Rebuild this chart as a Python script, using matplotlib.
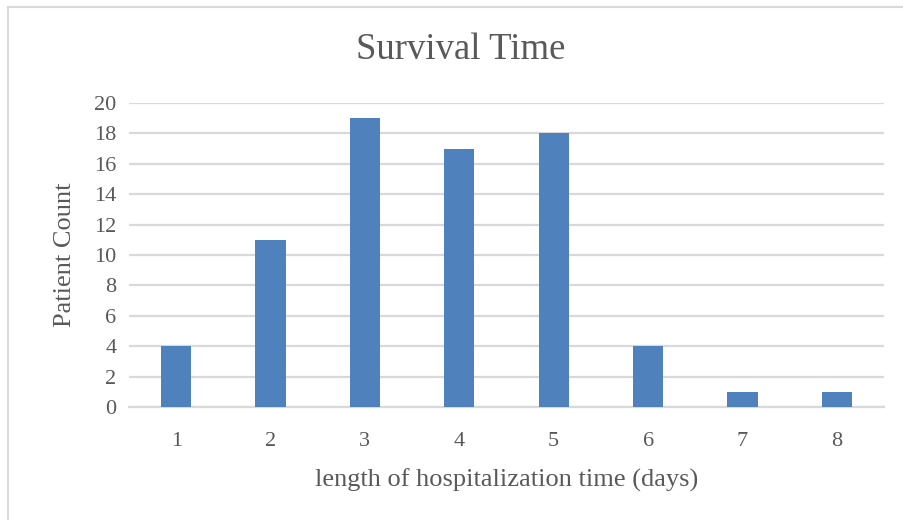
import matplotlib
matplotlib.use("Agg")
import matplotlib.pyplot as plt
from matplotlib.patches import Rectangle

categories = ["1", "2", "3", "4", "5", "6", "7", "8"]
patient_counts = [4, 11, 19, 17, 18, 4, 1, 1]
y_ticks = [0, 2, 4, 6, 8, 10, 12, 14, 16, 18, 20]

title = "Survival Time"
x_label = "length of hospitalization time (days)"
y_label = "Patient Count"

text_color = "#595959"
grid_color = "#d9d9d9"
bar_color = "#4f81bd"

plt.rcParams["font.family"] = ["Liberation Serif", "DejaVu Serif"]

fig = plt.figure(figsize=(9.04, 5.2), dpi=100)
fig.patches.append(Rectangle((8 / 904, -0.1), 1.2, 1 - 7 / 520 + 0.1,
                             transform=fig.transFigure, fill=False,
                             edgecolor=grid_color, linewidth=1.5, zorder=0))

ax = fig.add_axes([129 / 904, 1 - 407 / 520, (884 - 129) / 904, (407 - 103) / 520])
x = list(range(len(categories)))
ax.bar(x, patient_counts, width=0.32, color=bar_color, zorder=3)

ax.set_xlim(-0.5, len(categories) - 0.5)
ax.set_ylim(0, 20)
ax.set_yticks(y_ticks)
ax.set_xticks(x)
ax.set_xticklabels(categories)
ax.yaxis.grid(True, color=grid_color, linewidth=1.6, zorder=0)
ax.set_axisbelow(True)
for s in ["top", "right", "left"]:
    ax.spines[s].set_visible(False)
ax.spines["bottom"].set_color(grid_color)
ax.spines["bottom"].set_linewidth(1.6)
ax.tick_params(axis="both", length=0, labelsize=16, colors=text_color)
ax.tick_params(axis="x", pad=18)
ax.tick_params(axis="y", pad=9)

ax.set_xlabel(x_label, fontsize=19, color=text_color, labelpad=13)
ax.set_ylabel(y_label, fontsize=19, color=text_color, labelpad=13)
fig.text(461 / 904, 1 - 50 / 520, title, fontsize=26.5,
         color=text_color, ha="center", va="center")

fig.savefig("out.png", dpi=100)
